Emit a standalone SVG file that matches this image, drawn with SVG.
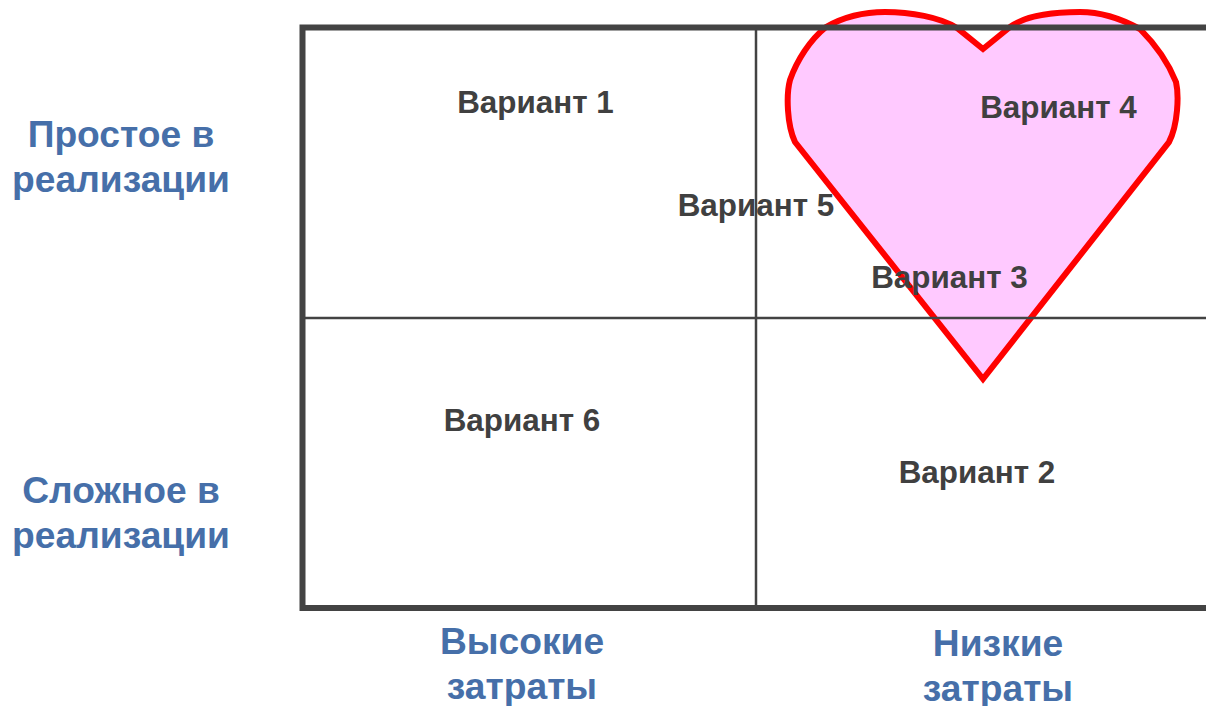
<svg xmlns="http://www.w3.org/2000/svg" width="1206" height="706" viewBox="0 0 1206 706">
<style>
text{font-family:"Liberation Sans",Arial,sans-serif;font-weight:bold;text-anchor:middle}
.a{font-size:37.200px;fill:#466fa9}
.v{font-size:31.400px;fill:#404040}
.f{fill:none;stroke:#434343;stroke-width:6}
.t{fill:none;stroke:#434343;stroke-width:2.500}
</style>
<rect width="1206" height="706" fill="#fff"/>
<g id="heart"><path d="M983 49L957 28C940 17 910 12 885 12C860 12 840 19 826 27C810 40 797 60 790 80C786 95 787 125 795 142L983 379L1169 142C1178 125 1179 95 1176 82C1168 62 1155 44 1140 29C1120 18 1100 12 1080 12C1050 12 1025 16 1010 27Z" fill="#ffc9ff" stroke="#f00" stroke-width="6"/></g>
<g id="grid">
<path class="t" d="M302.500 318H1206M756 27.500V608"/>
<path class="f" d="M1206 27.500H302.500V608H1206"/>
</g>
<g id="n1"><text class="v" x="535.500" y="113">Вариант 1</text></g>
<g id="n4"><text class="v" x="1058.500" y="118">Вариант 4</text></g>
<g id="n5"><text class="v" x="756" y="216">Вариант 5</text></g>
<g id="n3"><text class="v" x="949.500" y="288">Вариант 3</text></g>
<g id="n6"><text class="v" x="522" y="431">Вариант 6</text></g>
<g id="n2"><text class="v" x="977" y="483">Вариант 2</text></g>
<g id="l1"><text class="a" x="121" y="147">Простое в</text><text class="a" x="121" y="192">реализации</text></g>
<g id="l2"><text class="a" x="121" y="503">Сложное в</text><text class="a" x="121" y="548">реализации</text></g>
<g id="l3"><text class="a" x="522" y="654">Высокие</text><text class="a" x="522" y="699">затраты</text></g>
<g id="l4"><text class="a" x="998" y="656">Низкие</text><text class="a" x="998" y="701">затраты</text></g>
</svg>
